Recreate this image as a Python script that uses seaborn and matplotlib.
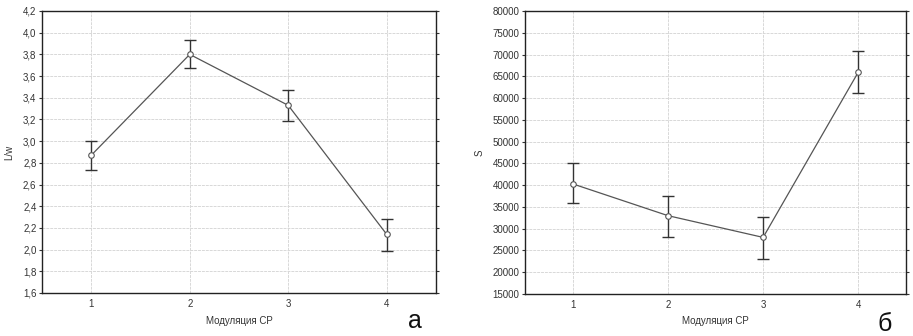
import numpy as np
import pandas as pd
import matplotlib
matplotlib.use("Agg")
import matplotlib.pyplot as plt
import seaborn as sns

# Values
modulation = [1, 2, 3, 4]
lw_mean = [2.87, 3.80, 3.33, 2.14]
lw_low = [2.73, 3.67, 3.19, 1.99]
lw_high = [3.00, 3.93, 3.47, 2.28]
s_mean = [40300, 33000, 28000, 66000]
s_low = [35900, 28200, 23000, 61100]
s_high = [45000, 37600, 32800, 70900]

lw_ticks = [1.6, 1.8, 2.0, 2.2, 2.4, 2.6, 2.8, 3.0, 3.2, 3.4, 3.6, 3.8, 4.0, 4.2]
s_ticks = list(range(15000, 80001, 5000))

sns.set_style("white")
plt.rcParams['font.family'] = ['Liberation Sans', 'DejaVu Sans']

fig = plt.figure(figsize=(9.13, 3.36), dpi=100)
ax1 = fig.add_axes([42 / 913, 1 - 293 / 336, 394 / 913, 282 / 336])
ax2 = fig.add_axes([525 / 913, 1 - 294 / 336, 381 / 913, 283 / 336])


def draw_panel(ax, mean, low, high, ticks, ylabel, fmt):
    df = pd.DataFrame({'x': modulation, 'y': mean})
    mean_a = np.array(mean)
    yerr = [mean_a - np.array(low), np.array(high) - mean_a]
    ax.errorbar(modulation, mean, yerr=yerr, fmt='none', ecolor='#333333',
                elinewidth=1.0, capsize=4.5, capthick=1.0, zorder=3)
    sns.lineplot(data=df, x='x', y='y', ax=ax, color='#555555', linewidth=0.9,
                 marker='o', markersize=4, markerfacecolor='white',
                 markeredgecolor='#555555', markeredgewidth=0.8, zorder=4)
    ax.set_xlim(0.5, 4.5)
    ax.set_ylim(ticks[0], ticks[-1])
    ax.set_xticks(modulation)
    ax.set_yticks(ticks)
    ax.set_yticklabels([fmt(t) for t in ticks])
    ax.grid(True, color='#d8d8d8', linewidth=0.7, linestyle=(0, (3, 1)))
    ax.set_axisbelow(True)
    for sp in ax.spines.values():
        sp.set_color('#222222')
        sp.set_linewidth(1.0)
    ax.tick_params(axis='both', labelsize=7, colors='#333333', length=2,
                   width=0.8, direction='out', pad=2)
    ax.tick_params(axis='y', right=True, left=True)
    ax.set_xlabel('Модуляция СР', fontsize=7, color='#333333', labelpad=5)
    ax.set_ylabel(ylabel, fontsize=7, color='#333333', labelpad=6)


draw_panel(ax1, lw_mean, lw_low, lw_high, lw_ticks, 'L/w',
           lambda t: f"{t:.1f}".replace('.', ','))
draw_panel(ax2, s_mean, s_low, s_high, s_ticks, 'S',
           lambda t: f"{t:d}")

fig.text(415 / 913, 1 - 328 / 336, 'а', fontsize=18, ha='center',
         va='baseline', color='#111111')
fig.text(885 / 913, 1 - 331 / 336, 'б', fontsize=18, ha='center',
         va='baseline', color='#111111')

fig.savefig('out.png', dpi=100, facecolor='white')
